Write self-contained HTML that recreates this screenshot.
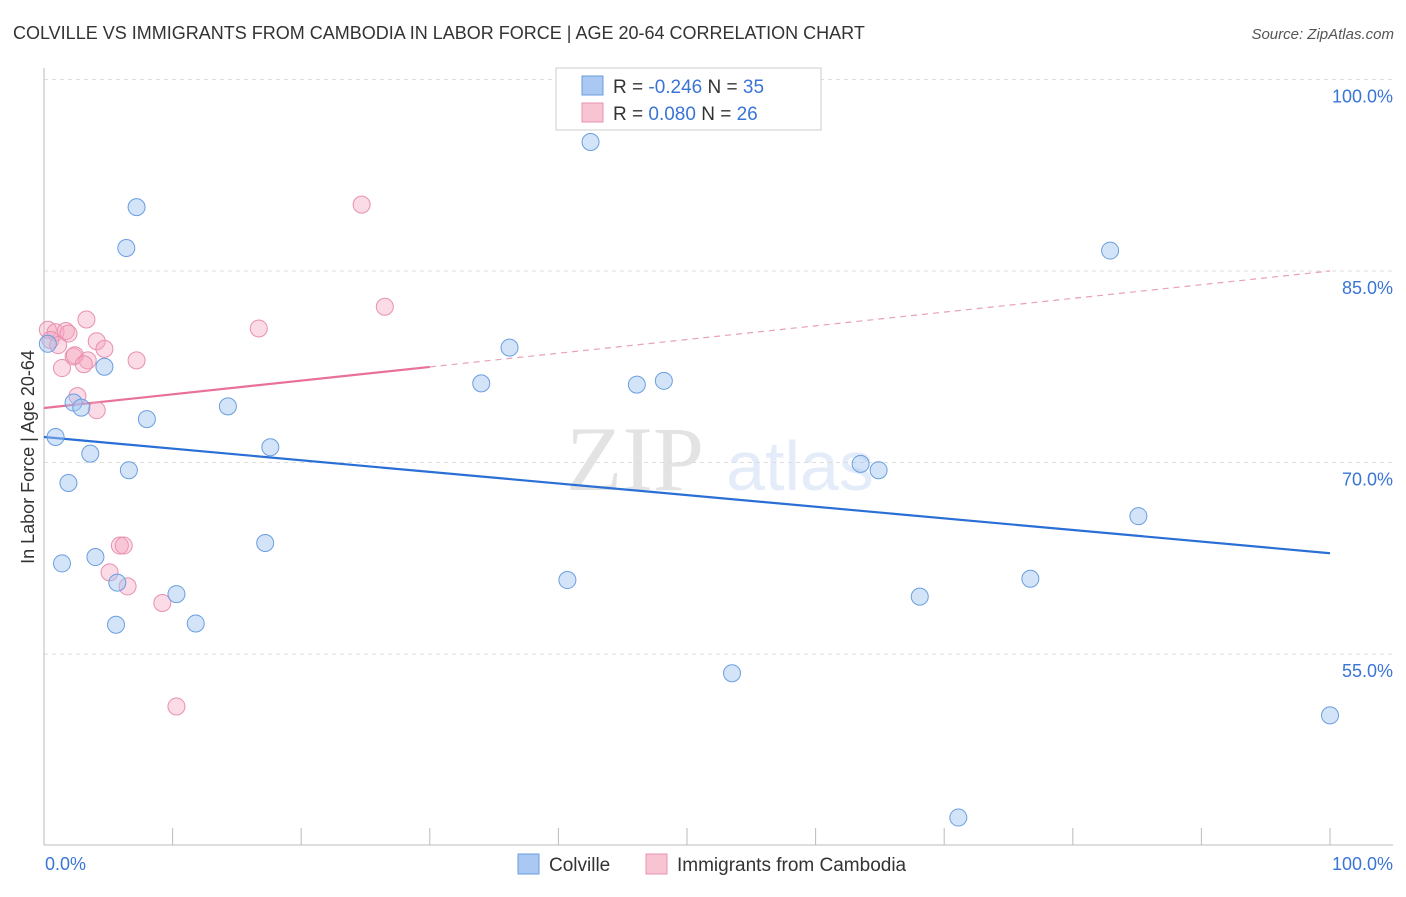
<!DOCTYPE html>
<html><head><meta charset="utf-8"><style>
body{margin:0;background:#fff;font-family:"Liberation Sans",sans-serif}
</style></head><body>
<svg id="chart" width="1406" height="892" xmlns="http://www.w3.org/2000/svg" font-family="Liberation Sans, sans-serif">
<text x="13" y="39" font-size="18" fill="#333">COLVILLE VS IMMIGRANTS FROM CAMBODIA IN LABOR FORCE | AGE 20-64 CORRELATION CHART</text>
<text x="1394" y="39" font-size="15" fill="#555" text-anchor="end" font-style="italic">Source: ZipAtlas.com</text>
<g opacity="0.13"><text x="635" y="490" font-size="92" font-family="Liberation Serif, serif" fill="#333" text-anchor="middle">ZIP</text><text x="800" y="490" font-size="70" fill="#3a75d6" text-anchor="middle">atlas</text></g>
<g id="grid"></g><g id="axes"></g><g id="lines"></g><g id="pts"></g>
<text transform="translate(34,457) rotate(-90)" font-size="18" fill="#333" text-anchor="middle">In Labor Force | Age 20-64</text>
<text x="45" y="870" font-size="18" fill="#3a75d6">0.0%</text>
<text x="1393" y="870" font-size="18" fill="#3a75d6" text-anchor="end">100.0%</text>
<g>
<rect x="556" y="68" width="265" height="62" fill="#fff" stroke="#ccc"/>
<rect x="582" y="76" width="21" height="19" fill="#a9c8f2" stroke="#6a9ee0"/>
<rect x="582" y="103" width="21" height="19" fill="#f8c4d4" stroke="#e890b0"/>
<text x="613" y="93" font-size="19" fill="#333">R = <tspan fill="#3a75d6">-0.246</tspan>   N = <tspan fill="#3a75d6">35</tspan></text>
<text x="613" y="120" font-size="19" fill="#333">R =  <tspan fill="#3a75d6">0.080</tspan>   N = <tspan fill="#3a75d6">26</tspan></text>
</g>
<g>
<rect x="518" y="854" width="21" height="20" fill="#a9c8f2" stroke="#6a9ee0"/>
<text x="549" y="871" font-size="19" fill="#333">Colville</text>
<rect x="646" y="854" width="21" height="20" fill="#f8c4d4" stroke="#e890b0"/>
<text x="677" y="871" font-size="19" fill="#333">Immigrants from Cambodia</text>
</g>
</svg>
<script>
const yTicks=[100,85,70,55];
const blueX=[42.5,7.2,6.4,82.9,36.2,0.3,4.7,34.0,46.1,48.2,2.3,2.9,14.3,8.0,0.9,17.6,3.6,6.6,63.5,64.9,1.9,85.1,17.2,4.0,1.4,40.7,76.7,5.7,10.3,68.1,5.6,11.8,53.5,100,71.1];
const blueY=[95.1,90.0,86.8,86.6,79.0,79.3,77.5,76.2,76.1,76.4,74.7,74.3,74.4,73.4,72.0,71.2,70.7,69.4,69.9,69.4,68.4,65.8,63.7,62.6,62.1,60.8,60.9,60.6,59.7,59.5,57.3,57.4,53.5,50.2,42.2];
const pinkX=[24.7,26.5,16.7,3.3,0.3,0.9,1.7,1.9,0.5,1.1,4.1,4.7,2.3,2.4,3.4,1.4,3.1,7.2,2.6,4.1,5.9,6.2,5.1,6.5,9.2,10.3];
const pinkY=[90.2,82.2,80.5,81.2,80.4,80.2,80.3,80.1,79.6,79.2,79.5,78.9,78.3,78.4,78.0,77.4,77.7,78.0,75.2,74.1,63.5,63.5,61.4,60.3,59.0,50.9];
const blueFit=[72.0,62.9];
const pinkFit=[74.27,85.0];
const pinkSolidEnd=30;
const NS="http://www.w3.org/2000/svg";
const X=v=>44+v*12.86, Y=v=>271+(85-v)*12.77;
function mk(t,a,p){const e=document.createElementNS(NS,t);for(const k in a)e.setAttribute(k,a[k]);document.getElementById(p).appendChild(e);return e;}
yTicks.forEach(t=>{
 const l=mk('line',{x1:44,x2:1393,y1:Y(t),y2:Y(t),stroke:'#ddd','stroke-dasharray':'4,4'},'grid');
 
 
 const tx=mk('text',{x:1393,y:Y(t)+23,'font-size':18,fill:'#3a75d6','text-anchor':'end'},'grid');
 tx.textContent=t.toFixed(1)+'%';
 
 
});
const ax=mk('line',{x1:44,x2:44,y1:68,y2:845,stroke:'#bbb'},'axes');


const bx=mk('line',{x1:44,x2:1393,y1:845,y2:845,stroke:'#bbb'},'axes');


for(let i=0;i<=10;i++){const t=mk('line',{x1:X(i*10),x2:X(i*10),y1:828,y2:845,stroke:'#bbb'},'axes');
 
 }
const fy=(f,x)=>f[0]+(f[1]-f[0])*x/100;
let l=mk('line',{x1:X(0),y1:Y(fy(blueFit,0)),x2:X(100),y2:Y(fy(blueFit,100)),stroke:'#2a6fd6','stroke-width':2.2},'lines');


l=mk('line',{x1:X(0),y1:Y(fy(pinkFit,0)),x2:X(pinkSolidEnd),y2:Y(fy(pinkFit,pinkSolidEnd)),stroke:'#e8709a','stroke-width':2.2},'lines');


l=mk('line',{x1:X(pinkSolidEnd),y1:Y(fy(pinkFit,pinkSolidEnd)),x2:X(100),y2:Y(fy(pinkFit,100)),stroke:'#e8a0b8','stroke-width':1.2,'stroke-dasharray':'6,5'},'lines');


pinkX.forEach((x,i)=>{const c=mk('circle',{cx:X(x),cy:Y(pinkY[i]),r:8.5,fill:'rgba(245,165,190,0.4)',stroke:'#e890b0','stroke-width':1},'pts');
 
 });
blueX.forEach((x,i)=>{const c=mk('circle',{cx:X(x),cy:Y(blueY[i]),r:8.5,fill:'rgba(160,196,240,0.45)',stroke:'#6a9ee0','stroke-width':1},'pts');
 
 });
</script>
</body></html>
